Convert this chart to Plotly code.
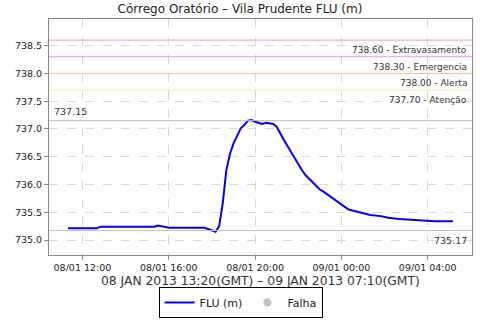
import plotly.graph_objects as go

times = ["2013-01-08 11:20", "2013-01-08 12:40", "2013-01-08 12:50", "2013-01-08 15:20", "2013-01-08 15:30",
         "2013-01-08 16:00", "2013-01-08 17:40", "2013-01-08 18:10", "2013-01-08 18:20", "2013-01-08 18:30",
         "2013-01-08 18:40", "2013-01-08 18:50", "2013-01-08 19:00", "2013-01-08 19:20", "2013-01-08 19:30",
         "2013-01-08 19:40", "2013-01-08 19:50", "2013-01-08 20:00", "2013-01-08 20:20", "2013-01-08 20:30",
         "2013-01-08 20:50", "2013-01-08 21:00", "2013-01-08 21:20", "2013-01-08 21:40", "2013-01-08 21:50",
         "2013-01-08 22:10", "2013-01-08 22:20", "2013-01-08 22:40", "2013-01-08 23:00", "2013-01-08 23:10",
         "2013-01-08 23:40", "2013-01-09 00:00", "2013-01-09 00:20", "2013-01-09 00:50", "2013-01-09 01:20",
         "2013-01-09 01:50", "2013-01-09 02:10", "2013-01-09 02:40", "2013-01-09 03:30", "2013-01-09 04:20",
         "2013-01-09 05:10"]
flu = [735.21, 735.21, 735.24, 735.24, 735.26,
       735.22, 735.22, 735.15, 735.25, 735.66,
       736.26, 736.55, 736.74, 737.01, 737.07,
       737.15, 737.16, 737.13, 737.09, 737.11,
       737.09, 737.04, 736.80, 736.58, 736.49,
       736.26, 736.17, 736.03, 735.91, 735.87,
       735.73, 735.65, 735.55, 735.50, 735.45,
       735.43, 735.40, 735.38, 735.36, 735.34,
       735.34]

thresholds = [738.60, 738.30, 738.00, 737.70]
threshold_names = ["Extravasamento", "Emergencia", "Alerta", "Atenção"]
threshold_colors = ["#f4a0a0", "#ff88ff", "#f8c080", "#f8eca0"]
max_val = 737.15
min_val = 735.17

font = "DejaVu Sans"
fig = go.Figure()
fig.add_trace(go.Scatter(x=times, y=flu, mode="lines", name="FLU (m)",
                         line=dict(color="#0000ff", width=2)))
fig.add_trace(go.Scatter(x=[None], y=[None], mode="markers", name="Falha",
                         marker=dict(color="#c0c0c0", size=8)))

shapes = []
annotations = []
for v, n, c in zip(thresholds, threshold_names, threshold_colors):
    shapes.append(dict(type="line", xref="paper", x0=0, x1=1, yref="y", y0=v, y1=v,
                       line=dict(color=c, width=1)))
    annotations.append(dict(xref="paper", x=0.993, yref="y", y=v, yshift=-3,
                            text=f"{v:.2f} - {n}", showarrow=False, xanchor="right", yanchor="top",
                            font=dict(family=font, size=9, color="#333333")))
for v in (max_val, min_val):
    shapes.append(dict(type="line", xref="paper", x0=0, x1=1, yref="y", y0=v, y1=v,
                       line=dict(color="#c0c0c0", width=1)))
annotations.append(dict(xref="paper", x=0.006, yref="y", y=max_val, yshift=2,
                        text=f"{max_val:.2f}", showarrow=False, xanchor="left", yanchor="bottom",
                        font=dict(family=font, size=9.5, color="#333333")))
annotations.append(dict(xref="paper", x=0.993, yref="y", y=min_val, yshift=-2,
                        text=f"{min_val:.2f}", showarrow=False, xanchor="right", yanchor="top",
                        font=dict(family=font, size=9.5, color="#333333")))
annotations.append(dict(xref="paper", x=0.5, yref="paper", y=-0.11,
                        text="08 JAN 2013 13:20(GMT) – 09 JAN 2013 07:10(GMT)", showarrow=False,
                        xanchor="center", yanchor="middle",
                        font=dict(family=font, size=12.3, color="#333333")))

fig.update_layout(
    width=480, height=320,
    margin=dict(l=49, r=8, t=19, b=65, autoexpand=False),
    paper_bgcolor="white", plot_bgcolor="white",
    title=dict(text="Córrego Oratório – Vila Prudente FLU (m)", x=0.5, xanchor="center",
               y=1 - 9 / 320, yanchor="middle", font=dict(family=font, size=12, color="#222222")),
    font=dict(family=font, size=10, color="#222222"),
    shapes=shapes, annotations=annotations,
    showlegend=True,
    legend=dict(orientation="h", x=0.453, xanchor="center", y=-0.267, yanchor="bottom",
                bordercolor="#000000", borderwidth=1, bgcolor="white",
                font=dict(family=font, size=11, color="#222222"),
                itemwidth=30, tracegroupgap=0),
)
fig.update_xaxes(range=["2013-01-08 10:27", "2013-01-09 06:03"], type="date", automargin=False,
                 tick0="2013-01-08 12:00", dtick=4 * 3600 * 1000, tickformat="%d/%m %H:%M",
                 showgrid=True, gridcolor="#d8d8d8", griddash="dash", gridwidth=1,
                 showline=True, linecolor="#888888", mirror=True,
                 ticks="outside", ticklen=4, tickcolor="#888888",
                 tickfont=dict(family=font, size=9.5, color="#222222"), zeroline=False)
fig.update_yaxes(range=[734.73, 738.98], dtick=0.5, tick0=735, tickformat=".1f", automargin=False,
                 showgrid=True, gridcolor="#d8d8d8", griddash="dash", gridwidth=1,
                 showline=True, linecolor="#888888", mirror=True,
                 ticks="outside", ticklen=4, tickcolor="#888888",
                 tickfont=dict(family=font, size=9.5, color="#222222"), zeroline=False)

fig.write_html("out.html", config={"displayModeBar": False},
               post_script="document.body.style.margin='0';")
